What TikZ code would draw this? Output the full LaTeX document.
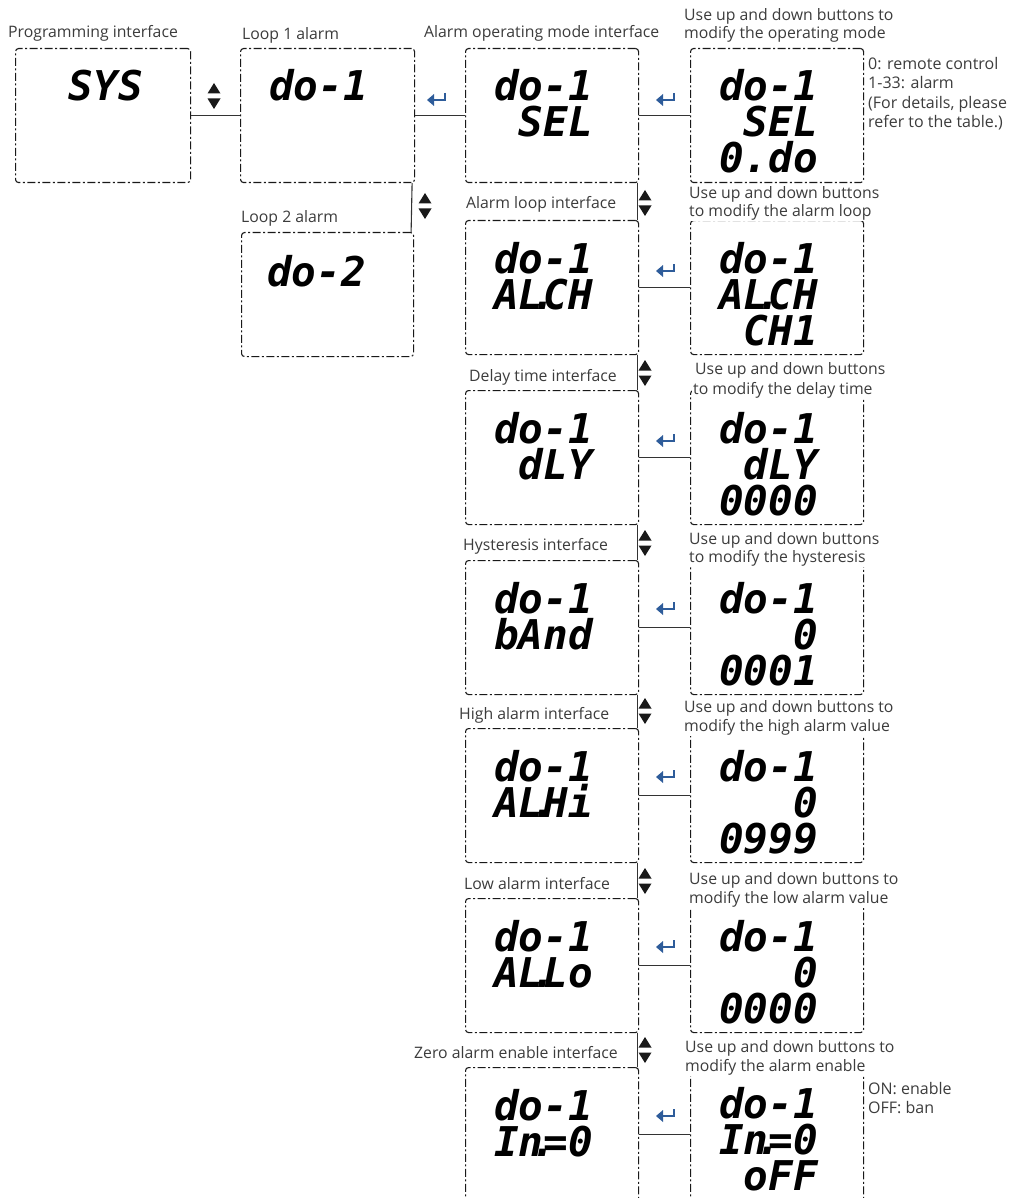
\documentclass[tikz,border=0pt]{standalone}
\usepackage{fontspec}
\setmainfont{Open Sans}
\newfontfamily\lcdfont{DejaVu Sans Mono}
\definecolor{entblue}{RGB}{46,92,154}
\definecolor{lblgray}{RGB}{60,60,60}
\newcommand\dotc{\makebox[0pt]{.}}
\tikzset{
  dispbox/.style={draw=black!90, line width=1.1pt, rounded corners=3pt,
    dash pattern=on 8pt off 2.5pt on 2pt off 2.5pt, anchor=north west,
    inner sep=0pt, minimum width=173pt, minimum height=134pt},
  conn/.style={draw=black!80, line width=1.1pt},
  lbl/.style={font=\fontsize{15.8}{18}\selectfont, text=lblgray, fill=white,
    inner sep=1pt, anchor=west},
  note/.style={font=\fontsize{16}{19.5}\selectfont, text=lblgray,
    inner sep=0pt, anchor=north west, align=left},
  lcd/.style={font=\lcdfont\bfseries\itshape\fontsize{41}{36}\selectfont,
    inner sep=0pt, anchor=base east, align=right},
  updown/.pic={\fill[black!90] (-6.5,-2.5) -- (6.5,-2.5) -- (0,-13) -- cycle;
               \fill[black!90] (-6.5,2.5) -- (6.5,2.5) -- (0,13) -- cycle;},
  enterkey/.pic={\draw[line width=2.6pt, draw=entblue] (8,-6) -- (8,1) -- (-3,1);
                 \fill[entblue] (-10,1) -- (-3,-5) -- (-3,7) -- cycle;}
}
\begin{document}
\begin{tikzpicture}[x=1pt,y=-1pt]
\useasboundingbox (0,0) rectangle (1014,1198);

% ---------- top row ----------
\node[dispbox, minimum width=175pt] (sys) at (15,48) {};
\node[lcd] (sys-t) at (143,101) {SYS};
\node[lbl] (sys-l) at (7,33) {Programming interface};

\node[dispbox, minimum width=174pt] (loop1) at (240,48) {};
\node[lcd] (loop1-t) at (368,101) {do-1};
\node[lbl] (loop1-l) at (241,35) {Loop 1 alarm};

\node[dispbox, minimum width=172pt, minimum height=124pt] (loop2) at (241,232) {};
\node[lcd] (loop2-t) at (366,286) {do-2};
\node[lbl] (loop2-l) at (240,218) {Loop 2 alarm};

\draw[conn] (sys.east) -- (loop1.west);
\pic at (214,96) {updown};
\draw[conn] ([xshift=-3pt]loop1.south east) -- ([xshift=-3pt]loop2.north east);
\pic at (425,206) {updown};

% ---------- column 3 and 4 ----------
% row 1
\node[dispbox] (c3r1) at (465,48) {};
\node[lcd] (c3r1-t) at (593,137) {do-1\\SEL};
\node[lbl] (c3r1-l) at (423,33) {Alarm operating mode interface};
\draw[conn] (loop1.east) -- (c3r1.west);
\pic at (437,99) {enterkey};

\node[dispbox] (c4r1) at (690,48) {};
\node[lcd] (c4r1-t) at (818,173) {do-1\\SEL\\0.do};
\node[lbl] (c4r1-l1) at (683,16) {Use up and down buttons to};
\node[lbl] (c4r1-l2) at (683,34) {modify the operating mode};
\node[note] (c4r1-n) at (868,57) {0: remote control\\1-33: alarm\\(For details, please\\refer to the table.)};
\draw[conn] (c3r1.east) -- (c4r1.west);
\pic at (666,99) {enterkey};

% row 2
\node[dispbox] (c3r2) at (465,220) {};
\node[lcd] (c3r2-t) at (593,309) {do-1\\AL\dotc CH};
\node[lbl] (c3r2-l) at (465,204) {Alarm loop interface};
\node[dispbox] (c4r2) at (690,220) {};
\node[lcd] (c4r2-t) at (818,345) {do-1\\AL\dotc CH\\CH1};
\node[lbl] (c4r2-l1) at (688,194) {Use up and down buttons};
\node[lbl] (c4r2-l2) at (688,212) {to modify the alarm loop};
\draw[conn] ([xshift=-2pt]c3r1.south east) -- ([xshift=-2pt]c3r2.north east);
\pic at (645,203) {updown};
\draw[conn] (c3r2.east) -- (c4r2.west);
\pic at (666,270) {enterkey};

% row 3
\node[dispbox] (c3r3) at (465,390) {};
\node[lcd] (c3r3-t) at (593,479) {do-1\\dLY};
\node[lbl] (c3r3-l) at (468,377) {Delay time interface};
\node[dispbox] (c4r3) at (690,390) {};
\node[lcd] (c4r3-t) at (818,515) {do-1\\dLY\\0000};
\node[lbl] (c4r3-l1) at (694,370) {Use up and down buttons};
\node[lbl] (c4r3-l2) at (692,390) {to modify the delay time};
\draw[conn] ([xshift=-2pt]c3r2.south east) -- ([xshift=-2pt]c3r3.north east);
\pic at (645,373) {updown};
\draw[conn] (c3r3.east) -- (c4r3.west);
\pic at (666,440) {enterkey};

% row 4
\node[dispbox] (c3r4) at (465,560) {};
\node[lcd] (c3r4-t) at (593,649) {do-1\\bAnd};
\node[lbl] (c3r4-l) at (462,546) {Hysteresis interface};
\node[dispbox] (c4r4) at (690,560) {};
\node[lcd] (c4r4-t) at (818,685) {do-1\\0\\0001};
\node[lbl] (c4r4-l1) at (688,540) {Use up and down buttons};
\node[lbl] (c4r4-l2) at (688,558) {to modify the hysteresis};
\draw[conn] ([xshift=-2pt]c3r3.south east) -- ([xshift=-2pt]c3r4.north east);
\pic at (645,543) {updown};
\draw[conn] (c3r4.east) -- (c4r4.west);
\pic at (666,608) {enterkey};

% row 5
\node[dispbox] (c3r5) at (465,728) {};
\node[lcd] (c3r5-t) at (593,817) {do-1\\AL\dotc Hi};
\node[lbl] (c3r5-l) at (458,715) {High alarm interface};
\node[dispbox] (c4r5) at (690,728) {};
\node[lcd] (c4r5-t) at (818,853) {do-1\\0\\0999};
\node[lbl] (c4r5-l1) at (683,708) {Use up and down buttons to};
\node[lbl] (c4r5-l2) at (683,727) {modify the high alarm value};
\draw[conn] ([xshift=-2pt]c3r4.south east) -- ([xshift=-2pt]c3r5.north east);
\pic at (645,711) {updown};
\draw[conn] (c3r5.east) -- (c4r5.west);
\pic at (666,776) {enterkey};

% row 6
\node[dispbox] (c3r6) at (465,898) {};
\node[lcd] (c3r6-t) at (593,987) {do-1\\AL\dotc Lo};
\node[lbl] (c3r6-l) at (463,884) {Low alarm interface};
\node[dispbox] (c4r6) at (690,898) {};
\node[lcd] (c4r6-t) at (818,1023) {do-1\\0\\0000};
\node[lbl] (c4r6-l1) at (688,880) {Use up and down buttons to};
\node[lbl] (c4r6-l2) at (688,899) {modify the low alarm value};
\draw[conn] ([xshift=-2pt]c3r5.south east) -- ([xshift=-2pt]c3r6.north east);
\pic at (645,881) {updown};
\draw[conn] (c3r6.east) -- (c4r6.west);
\pic at (666,946) {enterkey};

% row 7
\node[dispbox] (c3r7) at (465,1067) {};
\node[lcd] (c3r7-t) at (593,1156) {do-1\\In\dotc =0};
\node[lbl] (c3r7-l) at (413,1053) {Zero alarm enable interface};
\node[dispbox] (c4r7) at (690,1067) {};
\node[lcd] (c4r7-t) at (818,1190) {do-1\\In\dotc =0\\oFF};
\node[lbl] (c4r7-l1) at (684,1048) {Use up and down buttons to};
\node[lbl] (c4r7-l2) at (684,1067) {modify the alarm enable};
\node[note] (c4r7-n) at (868,1082) {ON: enable\\OFF: ban};
\draw[conn] ([xshift=-2pt]c3r6.south east) -- ([xshift=-2pt]c3r7.north east);
\pic at (645,1050) {updown};
\draw[conn] (c3r7.east) -- (c4r7.west);
\pic at (666,1115) {enterkey};
\end{tikzpicture}
\end{document}
